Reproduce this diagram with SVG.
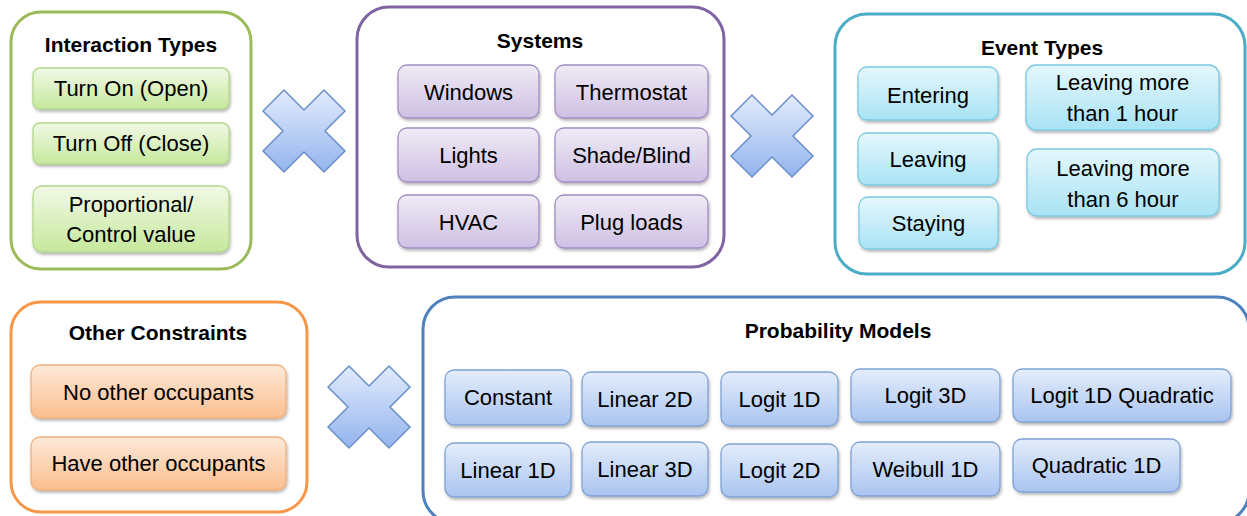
<svg xmlns="http://www.w3.org/2000/svg" width="1247" height="516" viewBox="0 0 1247 516">
<style>
.t{font-family:"Liberation Sans",Arial,sans-serif;font-size:22px;fill:#000;text-anchor:middle}
.h{font-family:"Liberation Sans",Arial,sans-serif;font-size:21px;font-weight:bold;fill:#000;text-anchor:middle}
.c{fill:#fff;stroke-width:3}
.b{stroke-width:1.3;filter:url(#sh)}
.g{fill:url(#gG);stroke:#b3d88a}
.p{fill:url(#gP);stroke:#a28dc3}
.cy{fill:url(#gC);stroke:#7ccae0}
.o{fill:url(#gO);stroke:#f5b07b}
.bl{fill:url(#gB);stroke:#7fa2d4}
.x{fill:url(#gX);stroke:#6a8fc9;stroke-width:1.5}
</style>
<defs>
<filter id="sh" x="-10%" y="-20%" width="125%" height="150%"><feDropShadow dx="1" dy="2" stdDeviation="1.5" flood-color="#000" flood-opacity="0.3"/></filter>
<linearGradient id="gG" x1="0" y1="0" x2="0" y2="1"><stop offset="0" stop-color="#f1f9e6"/><stop offset="1" stop-color="#c6e89c"/></linearGradient>
<linearGradient id="gP" x1="0" y1="0" x2="0" y2="1"><stop offset="0" stop-color="#f0ebf6"/><stop offset="1" stop-color="#cec0e3"/></linearGradient>
<linearGradient id="gC" x1="0" y1="0" x2="0" y2="1"><stop offset="0" stop-color="#e5f7fc"/><stop offset="1" stop-color="#a8e3f5"/></linearGradient>
<linearGradient id="gO" x1="0" y1="0" x2="0" y2="1"><stop offset="0" stop-color="#fde9da"/><stop offset="1" stop-color="#fbbe8e"/></linearGradient>
<linearGradient id="gB" x1="0" y1="0" x2="0" y2="1"><stop offset="0" stop-color="#e4edfb"/><stop offset="1" stop-color="#a9c4f0"/></linearGradient>
<linearGradient id="gX" x1="0" y1="0" x2="0" y2="1"><stop offset="0" stop-color="#e2ebfc"/><stop offset="1" stop-color="#93b4ee"/></linearGradient>
<polygon id="cross" points="-41,-20 -20,-41 0,-21 20,-41 41,-20 21,0 41,20 20,41 0,21 -20,41 -41,20 -21,0"/>
</defs>

<g id="interaction-types">
<rect class="c" x="11" y="12" width="240" height="257" rx="30" stroke="#9bbb59"/>
<text class="h" x="131" y="52">Interaction Types</text>
<rect class="b g" x="33" y="68" width="196" height="41" rx="7"/>
<text class="t" x="131" y="96">Turn On (Open)</text>
<rect class="b g" x="33" y="123" width="196" height="41" rx="7"/>
<text class="t" x="131" y="151">Turn Off (Close)</text>
<rect class="b g" x="33" y="186" width="196" height="66" rx="9"/>
<text class="t" x="131" y="212">Proportional/</text>
<text class="t" x="131" y="242">Control value</text>
</g>

<g id="systems">
<rect class="c" x="357" y="7" width="367" height="260" rx="32" stroke="#8064a2"/>
<text class="h" x="540" y="48">Systems</text>
<rect class="b p" x="398" y="65" width="141" height="53" rx="9"/>
<text class="t" x="468.5" y="100">Windows</text>
<rect class="b p" x="555" y="65" width="153" height="53" rx="9"/>
<text class="t" x="631.5" y="100">Thermostat</text>
<rect class="b p" x="398" y="128" width="141" height="54" rx="9"/>
<text class="t" x="468.5" y="163">Lights</text>
<rect class="b p" x="555" y="128" width="153" height="54" rx="9"/>
<text class="t" x="631.5" y="163">Shade/Blind</text>
<rect class="b p" x="398" y="195" width="141" height="53" rx="9"/>
<text class="t" x="468.5" y="230">HVAC</text>
<rect class="b p" x="555" y="195" width="153" height="53" rx="9"/>
<text class="t" x="631.5" y="230">Plug loads</text>
</g>

<g id="event-types">
<rect class="c" x="835" y="14" width="410" height="260" rx="32" stroke="#4bacc6"/>
<text class="h" x="1042" y="55">Event Types</text>
<rect class="b cy" x="858" y="67" width="140" height="53" rx="9"/>
<text class="t" x="928" y="103">Entering</text>
<rect class="b cy" x="858" y="133" width="140" height="52" rx="9"/>
<text class="t" x="928" y="167">Leaving</text>
<rect class="b cy" x="859" y="197" width="139" height="52" rx="9"/>
<text class="t" x="928.5" y="231">Staying</text>
<rect class="b cy" x="1026" y="65" width="193" height="65" rx="10"/>
<text class="t" x="1122.5" y="90">Leaving more</text>
<text class="t" x="1122.5" y="121">than 1 hour</text>
<rect class="b cy" x="1027" y="149" width="192" height="67" rx="10"/>
<text class="t" x="1123" y="176">Leaving more</text>
<text class="t" x="1123" y="207">than 6 hour</text>
</g>

<g id="other-constraints">
<rect class="c" x="11" y="302" width="296" height="210" rx="30" stroke="#f79646"/>
<text class="h" x="158" y="340">Other Constraints</text>
<rect class="b o" x="31" y="365" width="255" height="53" rx="9"/>
<text class="t" x="158.5" y="400">No other occupants</text>
<rect class="b o" x="31" y="437" width="255" height="53" rx="9"/>
<text class="t" x="158.5" y="471">Have other occupants</text>
</g>

<g id="probability-models">
<rect class="c" x="423" y="297" width="826" height="226" rx="32" stroke="#4f81bd"/>
<text class="h" x="838" y="338">Probability Models</text>
<rect class="b bl" x="445" y="370" width="126" height="55" rx="9"/>
<text class="t" x="508" y="405">Constant</text>
<rect class="b bl" x="582" y="372" width="126" height="54" rx="9"/>
<text class="t" x="645" y="407">Linear 2D</text>
<rect class="b bl" x="721" y="372" width="117" height="54" rx="9"/>
<text class="t" x="779.5" y="407">Logit 1D</text>
<rect class="b bl" x="851" y="369" width="149" height="53" rx="9"/>
<text class="t" x="925.5" y="403">Logit 3D</text>
<rect class="b bl" x="1013" y="369" width="218" height="53" rx="9"/>
<text class="t" x="1122" y="403">Logit 1D Quadratic</text>
<rect class="b bl" x="445" y="443" width="126" height="54" rx="9"/>
<text class="t" x="508" y="478">Linear 1D</text>
<rect class="b bl" x="582" y="442" width="126" height="54" rx="9"/>
<text class="t" x="645" y="477">Linear 3D</text>
<rect class="b bl" x="721" y="444" width="117" height="53" rx="9"/>
<text class="t" x="779.5" y="478">Logit 2D</text>
<rect class="b bl" x="851" y="442" width="149" height="54" rx="9"/>
<text class="t" x="925.5" y="477">Weibull 1D</text>
<rect class="b bl" x="1013" y="439" width="167" height="53" rx="9"/>
<text class="t" x="1096.5" y="473">Quadratic 1D</text>
</g>

<g id="connectors">
<use href="#cross" class="x" transform="translate(304,131)"/>
<use href="#cross" class="x" transform="translate(772,136)"/>
<use href="#cross" class="x" transform="translate(369,407)"/>
</g>
</svg>
